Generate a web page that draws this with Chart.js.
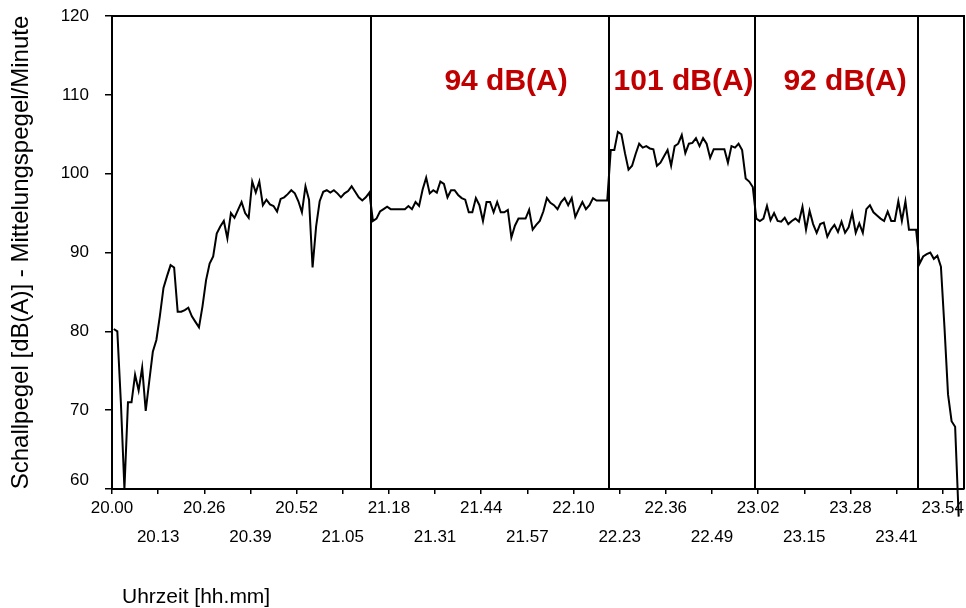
<!DOCTYPE html>
<html>
<head>
<meta charset="utf-8">
<title>Schallpegel</title>
<script src="https://cdn.jsdelivr.net/npm/chart.js@4/dist/chart.umd.min.js"></script>
<style>
  html, body { margin: 0; padding: 0; background: #fff; }
  #wrap { width: 966px; height: 608px; }
</style>
</head>
<body>
<div id="wrap"><canvas id="chart" width="966" height="608"></canvas></div>
<script>
// One-minute average level in dB(A), one value per minute from 20:00 on
const levels = [
  80.3, 80.0, 71.0, 60.0, 71.0, 71.0, 74.5, 72.5, 75.4, 69.9,
  73.7, 77.4, 78.9, 82.0, 85.5, 87.0, 88.4, 88.1, 82.5, 82.5,
  82.7, 83.0, 81.9, 81.2, 80.5, 83.2, 86.5, 88.6, 89.5, 92.4,
  93.3, 94.0, 91.8, 95.0, 94.4, 95.4, 96.4, 95.0, 94.4, 99.0,
  97.6, 99.0, 96.0, 96.7, 96.1, 95.9, 95.2, 96.8, 97.0, 97.4,
  97.9, 97.5, 96.5, 95.1, 98.4, 96.7, 88.1, 93.3, 96.5, 97.7,
  97.9, 97.6, 97.9, 97.5, 97.0, 97.5, 97.8, 98.4, 97.7, 97.0,
  96.6, 97.0, 97.6, 94.0, 94.3, 95.2, 95.5, 95.8, 95.5, 95.5,
  95.5, 95.5, 95.5, 95.9, 95.5, 96.4, 95.9, 98.0, 99.5, 97.5,
  97.9, 97.6, 99.0, 98.7, 97.0, 97.9, 97.9, 97.3, 96.9, 96.7,
  95.1, 95.1, 96.9, 96.0, 94.0, 96.4, 96.4, 95.1, 96.4, 95.1,
  95.1, 95.4, 91.9, 93.4, 94.3, 94.3, 94.3, 95.4, 92.9, 93.5,
  94.0, 95.2, 96.9, 96.3, 96.0, 95.5, 96.4, 96.9, 96.0, 96.9,
  94.5, 95.5, 96.4, 95.5, 96.0, 96.9, 96.6, 96.6, 96.6, 96.6,
  103.0, 103.0, 105.3, 105.0, 102.6, 100.5, 101.0, 102.5, 103.8, 103.3,
  103.5, 103.2, 103.1, 101.0, 101.4, 102.2, 103.0, 101.0, 103.5, 103.8,
  104.9, 102.6, 103.8, 103.9, 104.5, 103.5, 104.5, 103.8, 102.0, 103.1,
  103.1, 103.1, 103.1, 101.4, 103.5, 103.3, 103.8, 103.0, 99.4, 99.0,
  98.3, 94.3, 94.0, 94.3, 95.9, 94.1, 95.0, 94.0, 93.9, 94.4,
  93.6, 94.0, 94.3, 93.9, 95.8, 92.9, 95.3, 93.6, 92.5, 93.6,
  93.8, 92.0, 92.9, 93.5, 92.6, 93.9, 92.5, 93.2, 95.0, 92.5,
  93.7, 92.5, 95.5, 96.0, 95.1, 94.7, 94.3, 94.0, 95.2, 94.0,
  94.0, 96.5, 94.0, 96.5, 92.9, 92.9, 92.9, 88.6, 89.5, 89.8,
  90.0, 89.2, 89.6, 88.2, 80.5, 72.0, 68.6, 67.9, 56.5
];

// Time axis: minutes after 20:00, labelled every 13 minutes
const tickMinutes = [0, 13, 26, 39, 52, 65, 78, 91, 104, 117, 130, 143, 156, 169, 182, 195, 208, 221, 234];
const tickLabels = ['20.00', '20.13', '20.26', '20.39', '20.52', '21.05', '21.18', '21.31', '21.44', '21.57',
                    '22.10', '22.23', '22.36', '22.49', '23.02', '23.15', '23.28', '23.41', '23.54'];
const levelTicks = [60, 70, 80, 90, 100, 110, 120];

// Section boundaries (minutes after 20:00) and the average level of each section
const sectionBounds = [0, 73, 140, 181, 227];
const sectionLabels = ['94 dB(A)', '101 dB(A)', '92 dB(A)'];
const sectionLabelMinutes = [111, 161, 206.5];
const sectionLabelLevel = 111.6;

const yTitle = 'Schallpegel [dB(A)] - Mittelungspegel/Minute';
const xTitle = 'Uhrzeit [hh.mm]';

const FONT = '"Liberation Sans", Arial, Helvetica, sans-serif';
Chart.defaults.font.family = FONT;
Chart.defaults.color = '#000';

const sectionOverlay = {
  id: 'sectionOverlay',
  afterDatasetsDraw(chart) {
    const { ctx, chartArea: a, scales: { x, y } } = chart;
    ctx.save();
    ctx.strokeStyle = '#000';
    ctx.lineWidth = 2;
    // frame: top and right edges of the plot
    ctx.beginPath();
    ctx.moveTo(a.left, a.top);
    ctx.lineTo(a.right, a.top);
    ctx.lineTo(a.right, a.bottom);
    ctx.stroke();
    // section boundaries
    sectionBounds.forEach(m => {
      const px = Math.round(x.getPixelForValue(m));
      ctx.beginPath();
      ctx.moveTo(px, a.top);
      ctx.lineTo(px, a.bottom);
      ctx.stroke();
    });
    // section averages
    ctx.fillStyle = '#c00000';
    ctx.font = 'bold 30px ' + FONT;
    ctx.textAlign = 'center';
    ctx.textBaseline = 'middle';
    sectionLabels.forEach((t, k) => {
      ctx.fillText(t, x.getPixelForValue(sectionLabelMinutes[k]), y.getPixelForValue(sectionLabelLevel));
    });
    // time axis title
    ctx.fillStyle = '#000';
    ctx.font = '21px ' + FONT;
    ctx.textAlign = 'left';
    ctx.fillText(xTitle, a.left + 10, 597);
    ctx.restore();
  }
};

new Chart(document.getElementById('chart'), {
  type: 'line',
  data: {
    datasets: [{
      data: levels.map((v, i) => ({ x: i + 0.5, y: v })),
      borderColor: '#000',
      borderWidth: 2,
      pointRadius: 0,
      tension: 0,
      fill: false,
      clip: false
    }]
  },
  options: {
    responsive: false,
    animation: false,
    devicePixelRatio: 1,
    layout: { padding: { top: 16, right: 2, left: 0, bottom: 0 } },
    plugins: { legend: { display: false }, tooltip: { enabled: false } },
    scales: {
      x: {
        type: 'linear',
        min: 0,
        max: 240,
        afterBuildTicks: s => { s.ticks = tickMinutes.map(v => ({ value: v })); },
        afterFit: s => { s.height = 119; },
        ticks: {
          autoSkip: false,
          maxRotation: 0,
          minRotation: 0,
          padding: 0,
          color: '#000',
          font: { size: 17, lineHeight: 1.7 },
          callback: (v, idx) => idx % 2 ? ['', tickLabels[idx]] : tickLabels[idx]
        },
        grid: { drawOnChartArea: false, drawTicks: true, tickLength: 5, color: '#000', lineWidth: 1.5 },
        border: { display: true, color: '#000', width: 2 }
      },
      y: {
        min: 60,
        max: 120,
        afterBuildTicks: s => { s.ticks = levelTicks.map(v => ({ value: v })); },
        afterFit: s => { s.width = 112; s.paddingTop = 0; s.paddingBottom = 0; },
        ticks: {
          padding: 16,
          color: '#000',
          font: { size: 17, lineHeight: 1 },
          callback: v => v === 60 ? ['60', ''] : String(v)
        },
        grid: { drawOnChartArea: false, drawTicks: true, tickLength: 7, color: '#000', lineWidth: 1.5 },
        border: { display: true, color: '#000', width: 2 },
        title: {
          display: true,
          text: yTitle,
          color: '#000',
          font: { size: 24 },
          padding: { top: 7, bottom: 0 }
        }
      }
    }
  },
  plugins: [sectionOverlay]
});
</script>
</body>
</html>
